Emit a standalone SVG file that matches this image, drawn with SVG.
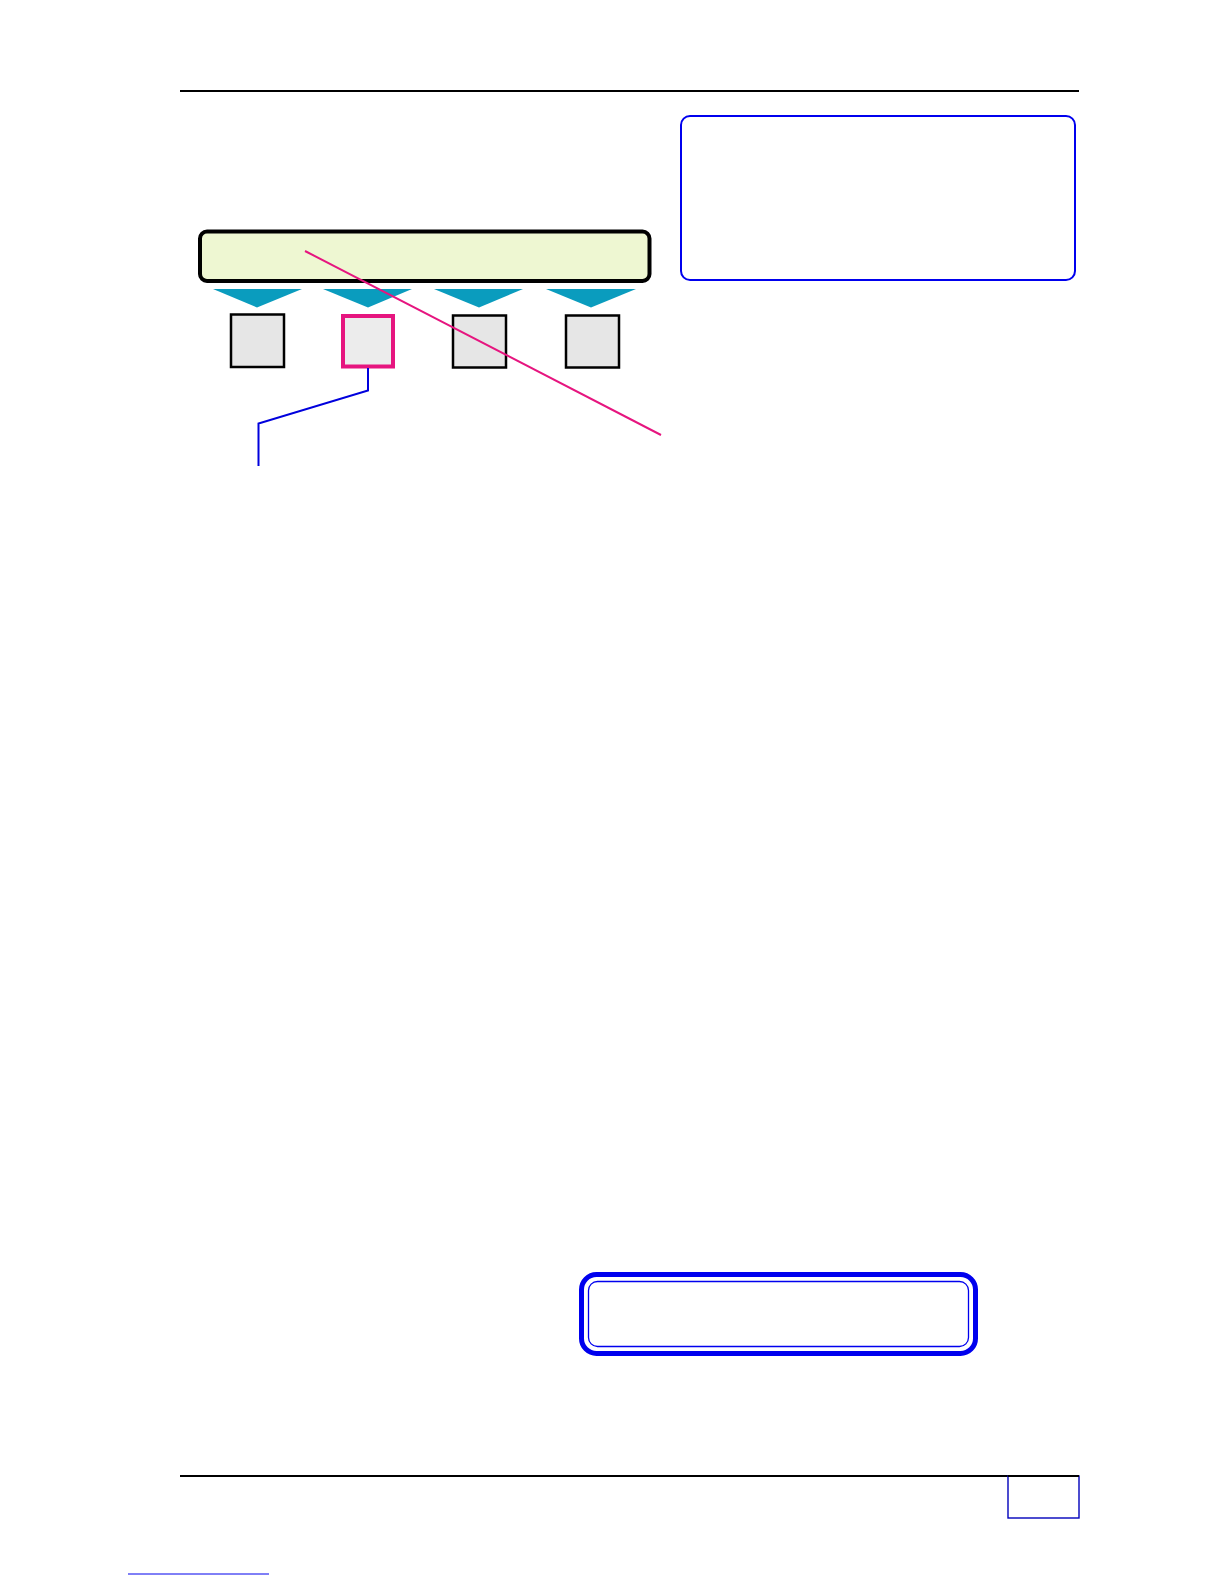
<svg xmlns="http://www.w3.org/2000/svg" width="1224" height="1584" viewBox="0 0 1224 1584">
<style>
.sq{fill:#e6e6e6;stroke:#000;stroke-width:2.5}
.tri{fill:#0a9cbe}
.rule{stroke:#000;stroke-width:2}
</style>
<rect width="1224" height="1584" fill="#fff"/>
<line class="rule" x1="180" y1="91" x2="1079" y2="91"/>
<g id="note-box"><rect x="681" y="116" width="394" height="164" rx="9" fill="#fff" stroke="#0000ee" stroke-width="2"/></g>
<g id="bar"><rect x="200" y="231.5" width="449.5" height="49.5" rx="7" fill="#eef7d2" stroke="#000" stroke-width="4"/></g>
<g id="arrows">
<polygon class="tri" points="213,289 302,289 257,307.5"/>
<polygon class="tri" points="323,289 412,289 368,307.5"/>
<polygon class="tri" points="434,289 523,289 479,307.5"/>
<polygon class="tri" points="546,289 636,289 591,307.5"/>
</g>
<g id="sq1"><rect class="sq" x="231" y="314.5" width="53" height="52.5"/></g>
<g id="sq2"><rect x="343" y="316" width="50" height="50.5" fill="#ececec" stroke="#e6157f" stroke-width="4"/></g>
<g id="sq3"><rect class="sq" x="453" y="315.5" width="53" height="52"/></g>
<g id="sq4"><rect class="sq" x="566" y="315.5" width="53" height="52"/></g>
<g id="connectors">
<line x1="305" y1="251" x2="661" y2="435" stroke="#e6157f" stroke-width="2"/>
<polyline points="368,368 368,390.5 258.5,423.5 258.5,466" fill="none" stroke="#0000dd" stroke-width="2"/>
</g>
<g id="bottom-box">
<rect x="581.5" y="1274.5" width="394" height="79" rx="15" fill="#fff" stroke="#0000ee" stroke-width="5"/>
<rect x="588.5" y="1281.5" width="380" height="65" rx="9" fill="none" stroke="#0000ee" stroke-width="1.3"/>
</g>
<line class="rule" x1="180" y1="1476" x2="1079" y2="1476"/>
<g id="page-box"><rect x="1008" y="1476" width="71" height="42" fill="#fff" stroke="#0000bb" stroke-width="1.4"/></g>
<line class="rule" x1="1008" y1="1476" x2="1079" y2="1476"/>
<line x1="128" y1="1574" x2="269" y2="1574" stroke="#0000ee" stroke-width="1"/>
</svg>
